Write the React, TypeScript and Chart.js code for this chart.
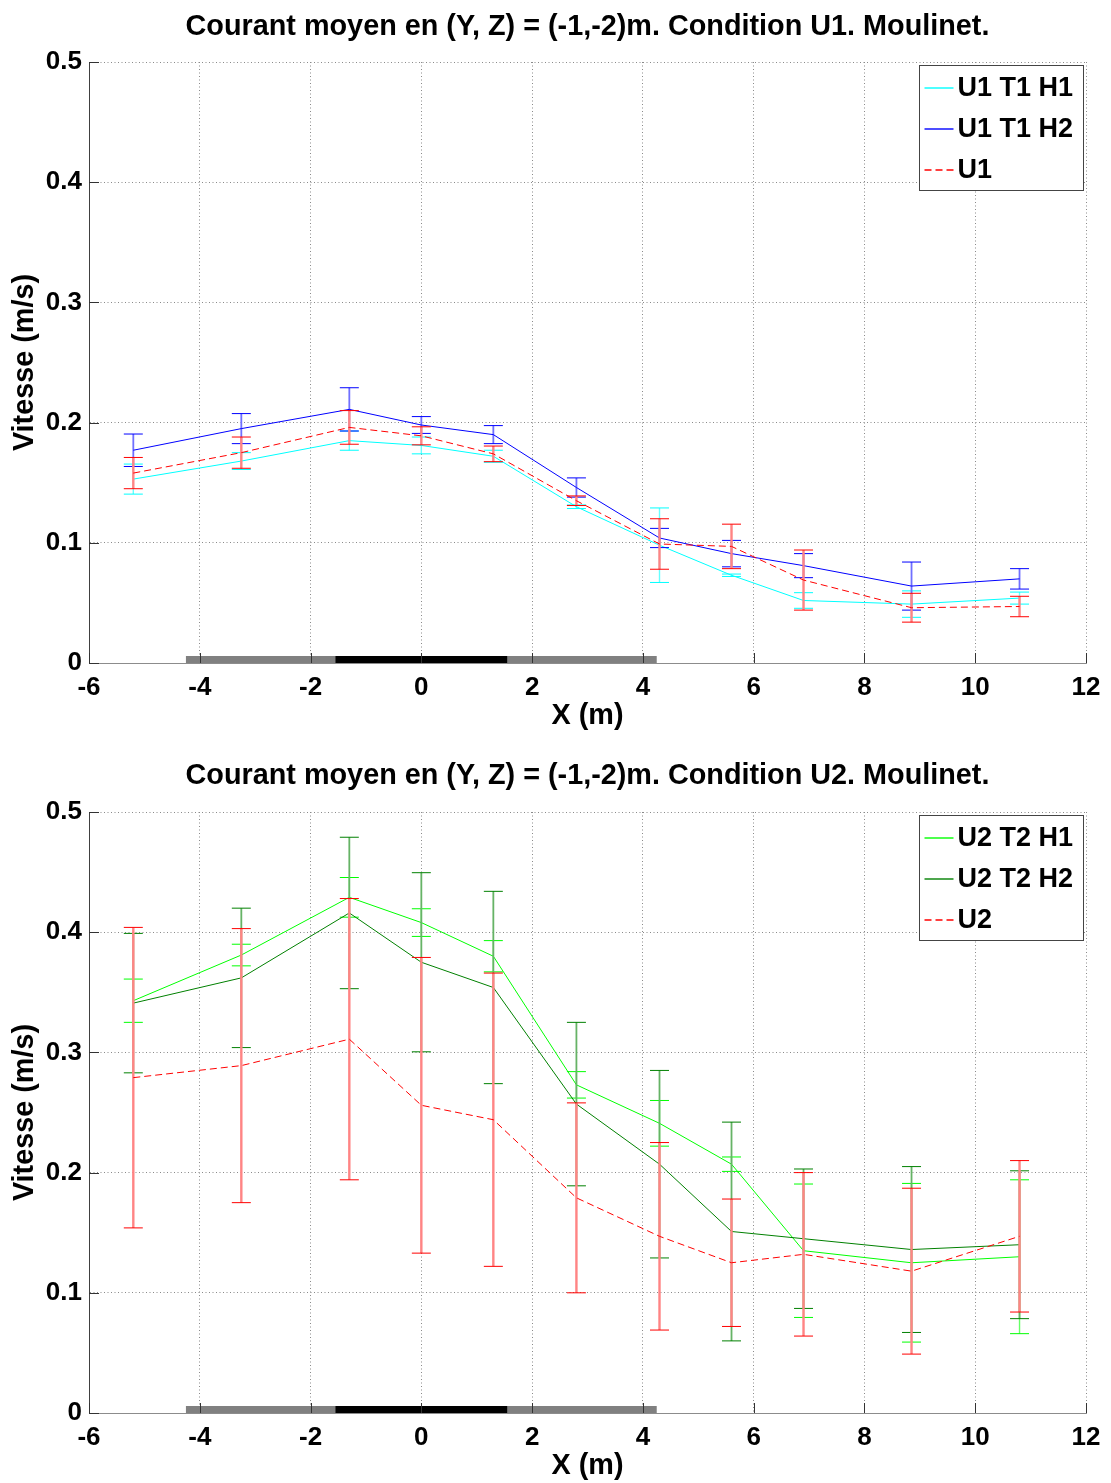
import React, { useEffect, useRef } from 'react';
import { Chart, registerables } from 'chart.js';

Chart.register(...registerables);

// ---------- data ----------
const X_POS = [-5.2, -3.25, -1.3, 0, 1.3, 2.8, 4.3, 5.6, 6.9, 8.85, 10.8];
const X_TICKS = [-6, -4, -2, 0, 2, 4, 6, 8, 10, 12];
const Y_TICKS = [0, 0.1, 0.2, 0.3, 0.4, 0.5];
const GRAY_BAR = [-4.25, 4.25];
const BLACK_BAR = [-1.55, 1.55];

const TITLE_1 = 'Courant moyen en (Y, Z) = (-1,-2)m. Condition U1. Moulinet.';
const TITLE_2 = 'Courant moyen en (Y, Z) = (-1,-2)m. Condition U2. Moulinet.';
const X_LABEL = 'X (m)';
const Y_LABEL = 'Vitesse (m/s)';

const LABEL_U1T1H1 = 'U1 T1 H1';
const U1T1H1 = [0.153, 0.168, 0.185, 0.181, 0.172, 0.130, 0.098, 0.073, 0.052, 0.049, 0.054];
const U1T1H1_ERR = [0.0125, 0.007, 0.008, 0.007, 0.005, 0.0015, 0.031, 0.001, 0.0065, 0.011, 0.005];

const LABEL_U1T1H2 = 'U1 T1 H2';
const U1T1H2 = [0.177, 0.195, 0.211, 0.198, 0.190, 0.146, 0.104, 0.091, 0.081, 0.064, 0.070];
const U1T1H2_ERR = [0.0135, 0.0125, 0.018, 0.007, 0.0075, 0.008, 0.008, 0.011, 0.010, 0.020, 0.0085];

const LABEL_U1 = 'U1';
const U1 = [0.158, 0.175, 0.196, 0.189, 0.174, 0.135, 0.099, 0.097, 0.069, 0.046, 0.047];
const U1_ERR = [0.013, 0.013, 0.014, 0.0075, 0.0065, 0.004, 0.021, 0.0185, 0.025, 0.012, 0.0085];

const LABEL_U2T2H1 = 'U2 T2 H1';
const U2T2H1 = [0.343, 0.381, 0.429, 0.408, 0.380, 0.273, 0.241, 0.207, 0.135, 0.125, 0.130];
const U2T2H1_ERR = [0.018, 0.009, 0.0165, 0.0115, 0.013, 0.011, 0.019, 0.006, 0.0555, 0.066, 0.064];

const LABEL_U2T2H2 = 'U2 T2 H2';
const U2T2H2 = [0.341, 0.362, 0.416, 0.375, 0.354, 0.257, 0.207, 0.151, 0.145, 0.136, 0.140];
const U2T2H2_ERR = [0.058, 0.058, 0.063, 0.0745, 0.080, 0.068, 0.078, 0.091, 0.058, 0.069, 0.0615];

const LABEL_U2 = 'U2';
const U2 = [0.279, 0.289, 0.311, 0.256, 0.244, 0.179, 0.147, 0.125, 0.132, 0.118, 0.147];
const U2_ERR = [0.125, 0.114, 0.117, 0.123, 0.122, 0.079, 0.078, 0.053, 0.068, 0.069, 0.063];

// ---------- styles ----------
const FONT = "'Liberation Sans', Arial, Helvetica, sans-serif";
const CYAN = ['#00ffff', '#66ffff'];
const BLUE = ['#0000ff', '#7070ff'];
const RED = ['#ff0000', '#ff8484'];
const LGREEN = ['#00ff00', '#66ff66'];
const DGREEN = ['#008000', '#66b366'];
const DASH = [7, 4];
const ERR_WIDTH = [2.4, 1.8, 1.4];

function seriesSets(label: string, values: number[], errs: number[], colors: string[], order: number, dash: number[] = []) {
  const [color, light] = colors;
  const line = {
    label,
    legendEntry: true,
    legendOrder: order,
    order,
    data: X_POS.map((x, i) => ({ x, y: values[i] })),
    borderColor: color,
    backgroundColor: color,
    borderWidth: 1,
    borderDash: dash,
    pointRadius: 0,
    tension: 0,
  };
  const err = {
    label: label + ' err',
    order,
    data: X_POS.flatMap((x, i) => [
      { x, y: values[i] - errs[i] },
      { x, y: values[i] + errs[i] },
      { x, y: null },
    ]),
    borderColor: light,
    borderWidth: ERR_WIDTH[order],
    pointStyle: 'line',
    pointRadius: 9.5,
    pointBorderColor: color,
    pointBorderWidth: 1,
    pointHitRadius: 0,
    tension: 0,
  };
  return [line, err];
}

function barSets() {
  return [
    {
      label: 'black bar',
      order: 10,
      data: BLACK_BAR.map((x) => ({ x, y: 0 })),
      borderColor: '#000000',
      borderWidth: 14,
      borderCapStyle: 'butt',
      pointRadius: 0,
    },
    {
      label: 'gray bar',
      order: 11,
      data: GRAY_BAR.map((x) => ({ x, y: 0 })),
      borderColor: '#808080',
      borderWidth: 14,
      borderCapStyle: 'butt',
      pointRadius: 0,
    },
  ];
}

const innerTicks = {
  id: 'innerTicks',
  afterDatasetsDraw(chart: any) {
    const { ctx, chartArea, scales } = chart;
    ctx.save();
    ctx.strokeStyle = '#333333';
    ctx.lineWidth = 1;
    scales.x.ticks.forEach((t: any) => {
      const px = Math.round(scales.x.getPixelForValue(t.value)) + 0.5;
      ctx.beginPath();
      ctx.moveTo(px, chartArea.bottom);
      ctx.lineTo(px, chartArea.bottom - 10);
      ctx.stroke();
    });
    scales.y.ticks.forEach((t: any) => {
      const py = Math.round(scales.y.getPixelForValue(t.value)) + 0.5;
      ctx.beginPath();
      ctx.moveTo(chartArea.left, py);
      ctx.lineTo(chartArea.left + 10, py);
      ctx.stroke();
    });
    ctx.restore();
  },
};

const boxLegend = {
  id: 'boxLegend',
  afterDraw(chart: any) {
    const { ctx, chartArea } = chart;
    const entries = chart.data.datasets
      .filter((d: any) => d.legendEntry)
      .sort((a: any, b: any) => b.legendOrder - a.legendOrder);
    const w = 164;
    const h = 125;
    const left = Math.round(chartArea.right - 3 - w) + 0.5;
    const top = Math.round(chartArea.top + 3) + 0.5;
    ctx.save();
    ctx.fillStyle = '#ffffff';
    ctx.fillRect(left, top, w, h);
    ctx.strokeStyle = '#444444';
    ctx.lineWidth = 1;
    ctx.strokeRect(left, top, w, h);
    ctx.font = `bold 27px ${FONT}`;
    ctx.textBaseline = 'middle';
    ctx.textAlign = 'left';
    entries.forEach((d: any, i: number) => {
      const y = Math.round(top + 22 + i * 41);
      ctx.strokeStyle = d.borderColor;
      ctx.lineWidth = 1.4;
      ctx.setLineDash(d.borderDash || []);
      ctx.beginPath();
      ctx.moveTo(left + 5, y);
      ctx.lineTo(left + 34, y);
      ctx.stroke();
      ctx.setLineDash([]);
      ctx.fillStyle = '#000000';
      ctx.fillText(d.label, left + 38, y + 1);
    });
    ctx.restore();
  },
};

type PanelProps = {
  title: string;
  datasets: any[];
  height: number;
  areaTop: number;
  titleCenter: number;
  xTitleCenter: number;
  areaBottom: number;
};

function Panel({ title, datasets, height, areaTop, titleCenter, xTitleCenter, areaBottom }: PanelProps) {
  const ref = useRef<HTMLCanvasElement | null>(null);
  useEffect(() => {
    if (!ref.current) return;
    const titleSize = 28.8;
    const lh = titleSize * 1.2;
    const tPadTop = titleCenter - lh / 2;
    const tPadBottom = areaTop - lh - tPadTop;
    const xTitlePad = Math.max(0, height - xTitleCenter - lh / 2);
    const chart = new Chart(ref.current, {
      type: 'line',
      data: { datasets },
      plugins: [innerTicks, boxLegend],
      options: {
        animation: false,
        responsive: false,
        layout: { padding: { left: 0, right: 25, top: 0, bottom: 0 } },
        plugins: {
          legend: { display: false },
          tooltip: { enabled: false },
          title: {
            display: true,
            text: title,
            fullSize: false,
            color: '#000000',
            font: { family: FONT, size: titleSize, weight: 'bold' },
            padding: { top: tPadTop, bottom: tPadBottom },
          },
        },
        scales: {
          x: {
            type: 'linear',
            min: -6,
            max: 12,
            afterBuildTicks: (s: any) => {
              s.ticks = X_TICKS.map((v) => ({ value: v }));
            },
            afterFit: (s: any) => {
              s.height = height - areaBottom;
            },
            ticks: {
              autoSkip: false,
              maxRotation: 0,
              padding: 9,
              color: '#000000',
              font: { family: FONT, size: 26, weight: 'bold' },
              callback: (v: any) => String(v),
            },
            grid: { color: '#8a8a8a', lineWidth: 1, drawTicks: false },
            border: { display: true, color: '#8c8c8c', width: 1, dash: [1, 2.5] },
            title: {
              display: true,
              text: X_LABEL,
              color: '#000000',
              font: { family: FONT, size: titleSize, weight: 'bold' },
              padding: { top: 0, bottom: xTitlePad },
            },
          },
          y: {
            type: 'linear',
            min: 0,
            max: 0.5,
            afterBuildTicks: (s: any) => {
              s.ticks = Y_TICKS.map((v) => ({ value: v }));
            },
            afterFit: (s: any) => {
              s.width = 89;
            },
            ticks: {
              padding: 7,
              color: '#000000',
              font: { family: FONT, size: 26, weight: 'bold' },
              callback: (v: any) => String(Math.round(v * 10) / 10),
            },
            grid: { color: '#8a8a8a', lineWidth: 1, drawTicks: false },
            border: { display: true, color: '#404040', width: 1, dash: [1, 2.5] },
            title: {
              display: true,
              text: Y_LABEL,
              color: '#000000',
              font: { family: FONT, size: titleSize, weight: 'bold' },
              padding: { top: 25 - lh / 2, bottom: 0 },
            },
          },
        },
      } as any,
    });
    return () => chart.destroy();
  }, []);
  return <canvas ref={ref} width={1111} height={height} style={{ display: 'block' }} />;
}

export default function App() {
  const top = [
    ...seriesSets(LABEL_U1, U1, U1_ERR, RED, 0, DASH),
    ...seriesSets(LABEL_U1T1H2, U1T1H2, U1T1H2_ERR, BLUE, 1),
    ...seriesSets(LABEL_U1T1H1, U1T1H1, U1T1H1_ERR, CYAN, 2),
    ...barSets(),
  ];
  const bottom = [
    ...seriesSets(LABEL_U2, U2, U2_ERR, RED, 0, DASH),
    ...seriesSets(LABEL_U2T2H2, U2T2H2, U2T2H2_ERR, DGREEN, 1),
    ...seriesSets(LABEL_U2T2H1, U2T2H1, U2T2H1_ERR, LGREEN, 2),
    ...barSets(),
  ];
  return (
    <div style={{ position: 'absolute', left: 0, top: 0, width: 1111, height: 1483, background: '#ffffff' }}>
      <Panel title={TITLE_1} datasets={top} height={748} areaTop={62} areaBottom={663} titleCenter={27} xTitleCenter={716} />
      <Panel title={TITLE_2} datasets={bottom} height={735} areaTop={64} areaBottom={665} titleCenter={28} xTitleCenter={718} />
    </div>
  );
}
